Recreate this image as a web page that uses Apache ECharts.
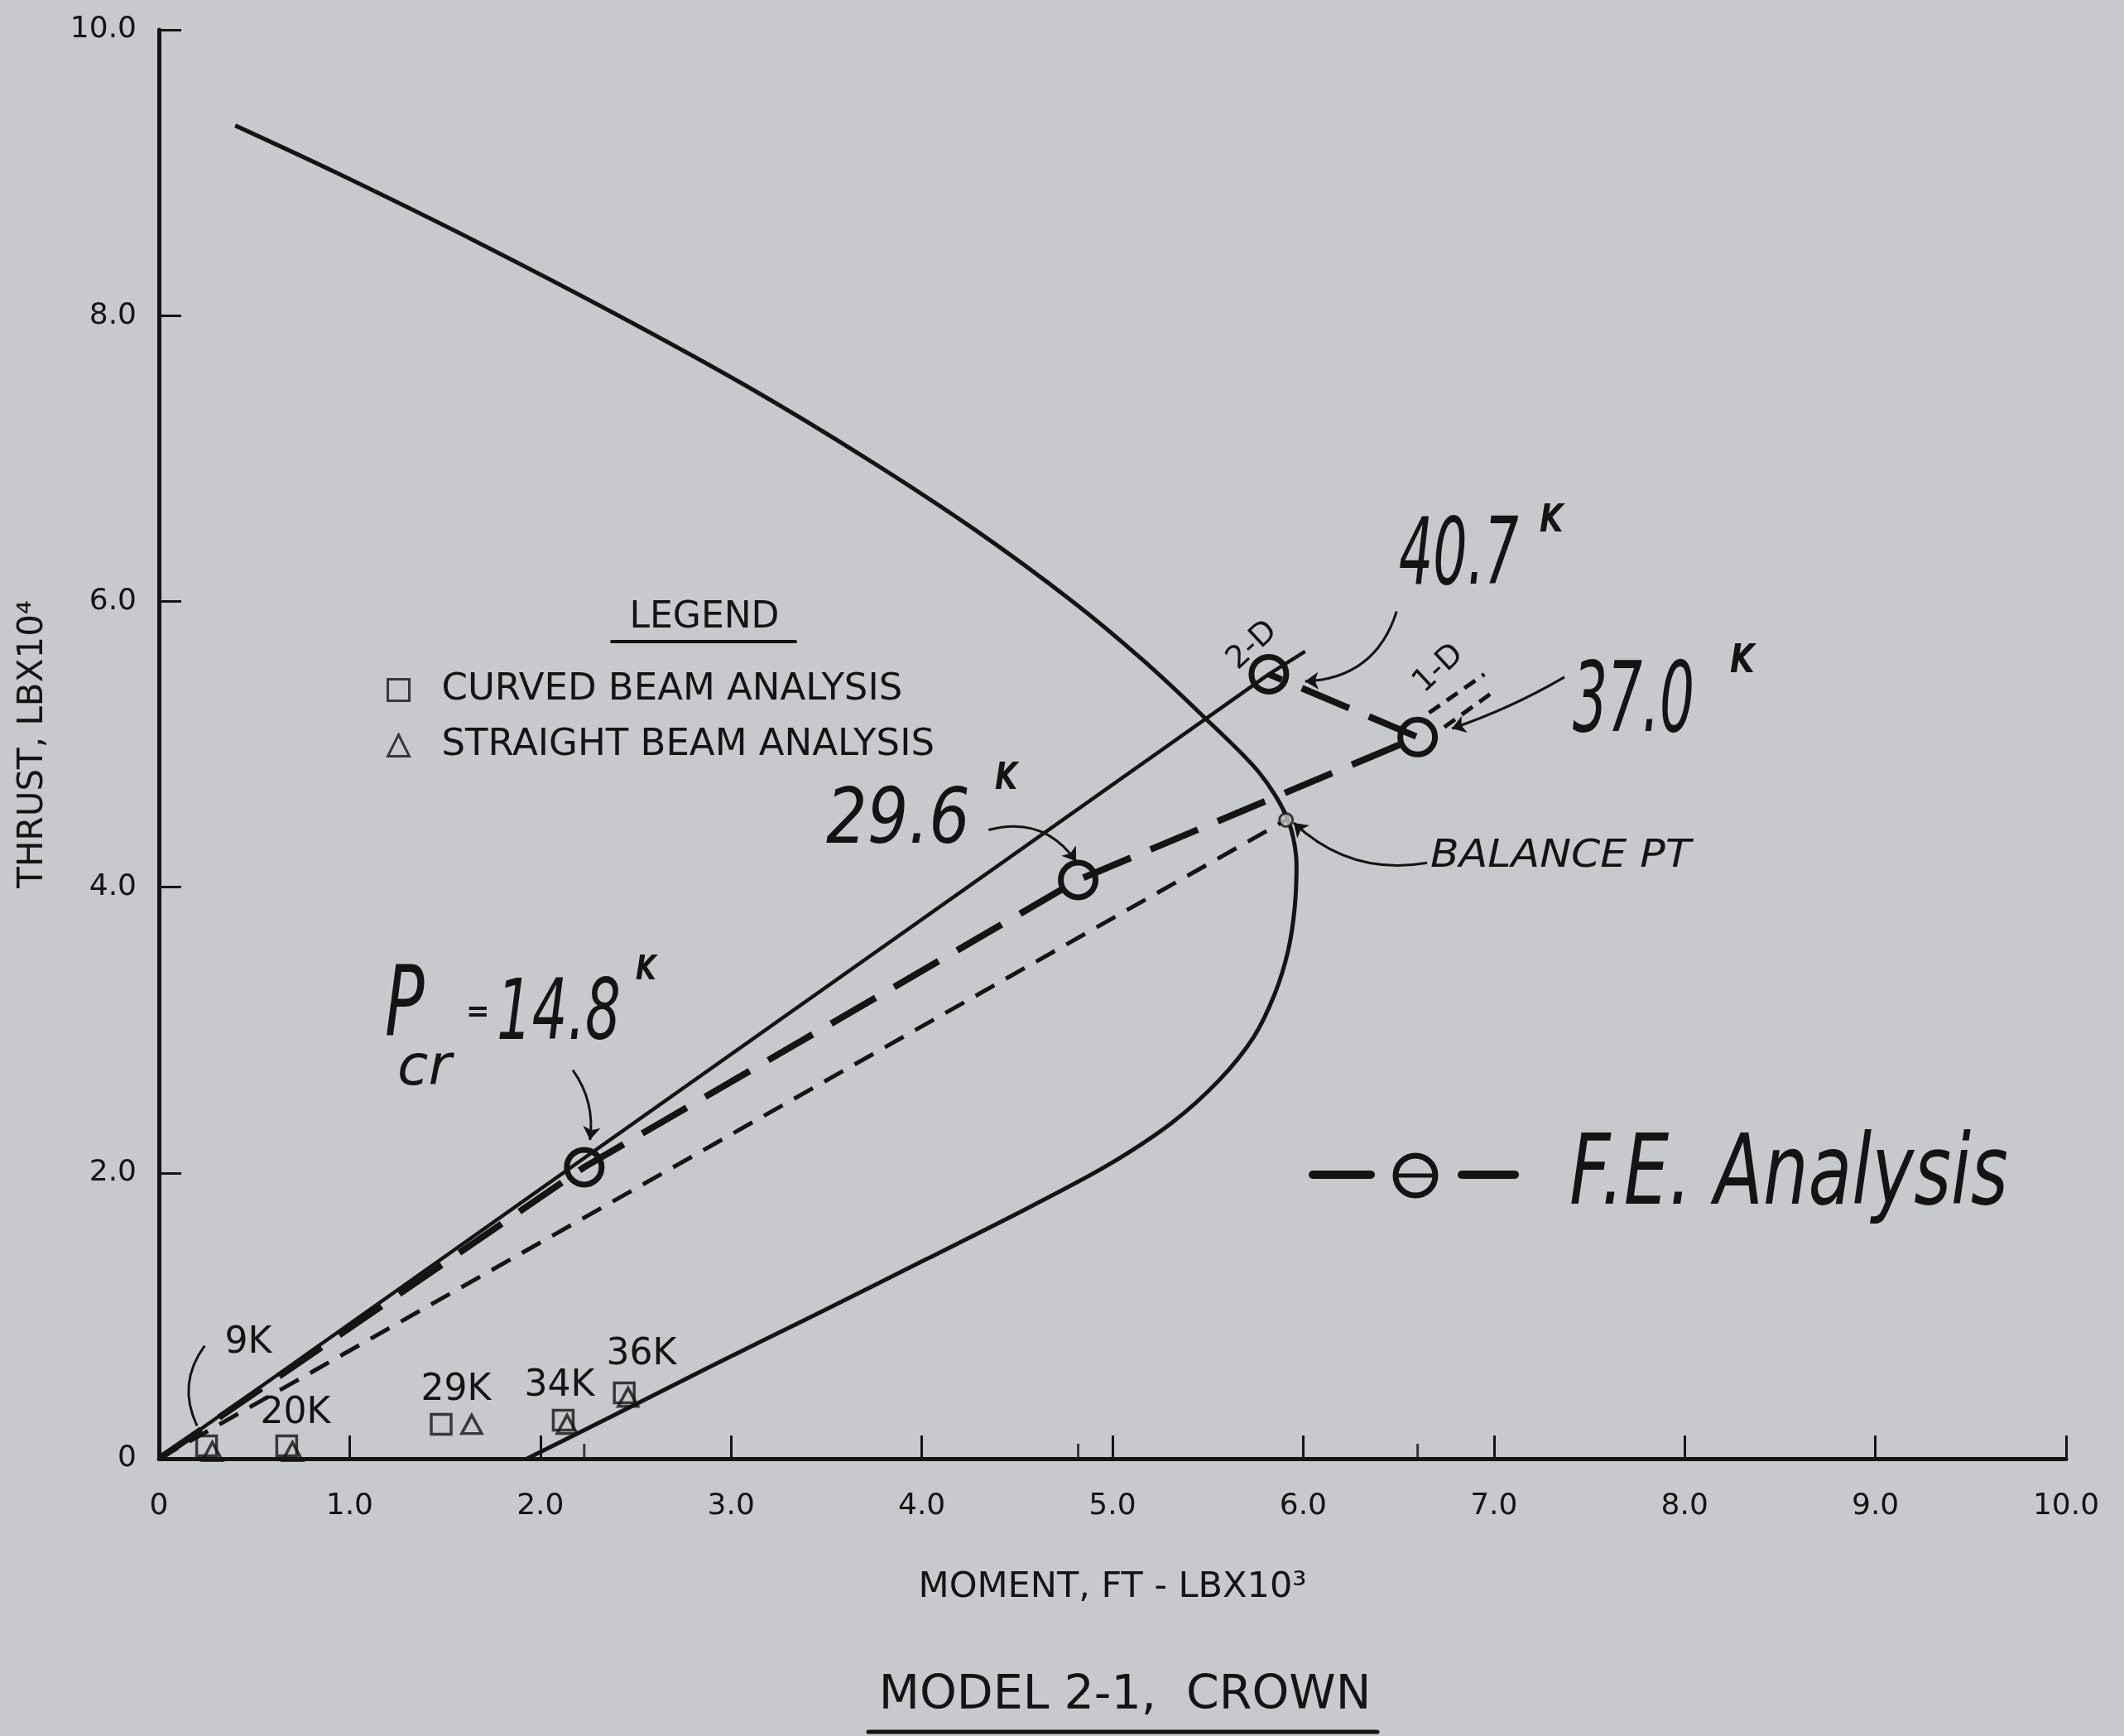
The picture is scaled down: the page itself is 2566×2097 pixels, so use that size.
<!DOCTYPE html>
<html>
<head>
<meta charset="utf-8">
<script src="https://cdn.jsdelivr.net/npm/echarts@6/dist/echarts.min.js"></script>
<style>
html,body{margin:0;padding:0;background:#c8c9cc;}
#chart{width:2566px;height:2097px;}
</style>
</head>
<body>
<div id="chart"></div>
<script>
// ---------- tick labels ----------
const xTickLabels = ['0','1.0','2.0','3.0','4.0','5.0','6.0','7.0','8.0','9.0','10.0'];
const yTickLabels = ['0','2.0','4.0','6.0','8.0','10.0'];

// ---------- interaction (capacity) curve : [moment, thrust] ----------
const interactionCurve = [
  [0.40,9.33],[0.93,9.00],[1.69,8.50],[2.41,8.00],[3.09,7.50],[3.71,7.00],
  [4.28,6.50],[4.79,6.00],[5.15,5.60],[5.48,5.19],[5.77,4.80],[5.92,4.47],
  [5.965,4.15],[5.955,3.85],[5.92,3.55],[5.85,3.25],[5.74,2.95],[5.56,2.65],
  [5.31,2.35],[4.97,2.05],[4.55,1.75],[4.03,1.40],[3.43,1.00],[2.90,0.65],
  [2.44,0.34],[1.93,0.00]
];

// ---------- straight load lines ----------
const twoDLine = [[0,0],[5.82,5.49],[6.01,5.65]];
const balanceLine = [[0,0],[5.91,4.47]];
const balancePoint = [[5.91,4.47]];
const oneDMarkA = [[6.66,5.22],[6.95,5.49]];
const oneDMarkB = [[6.74,5.12],[6.99,5.36]];

// ---------- F.E. analysis ----------
const feLoads  = ['14.8','29.6','37.0','40.7'];
const feMoment = [2.23, 4.82, 6.60, 5.82];
const feThrust = [2.04, 4.05, 5.05, 5.49];

// ---------- beam analyses ----------
const beamLoads      = ['9K','20K','29K','34K','36K'];
const curvedMoment   = [0.25, 0.67, 1.48, 2.12, 2.44];
const curvedThrust   = [0.09, 0.09, 0.24, 0.27, 0.46];
const straightMoment = [0.28, 0.70, 1.64, 2.14, 2.46];
const straightThrust = [0.05, 0.05, 0.24, 0.24, 0.43];

// ---------- leader lines (annotation arrows) ----------
const leaderFrom = [[6.49,5.93],[7.37,5.47],[4.35,4.40],[2.17,2.72],[6.65,4.17]];
const leaderTo   = [[6.01,5.44],[6.78,5.11],[4.81,4.18],[2.26,2.23],[5.95,4.45]];
const leaderBend = [0.35, 0.05, 0.35, 0.2, 0.25];
const leader9K   = [[0.24,0.79],[0.20,0.23]];

const INK = '#141414';
const BG = '#c8c9cc';
const FONT = "'DejaVu Sans', 'Noto Sans', sans-serif";

const chart = echarts.init(document.getElementById('chart'), null, {renderer:'canvas', width:2566, height:2097});

function txt(text, x, y, size, opts) {
  opts = opts || {};
  return {
    type: 'text', x: x, y: y, silent: true,
    scaleX: opts.sx || 1, rotation: opts.rot || 0, z: 100,
    style: {
      text: text, fill: INK, fontFamily: FONT, fontSize: size,
      fontStyle: opts.italic ? 'italic' : 'normal',
      fontWeight: opts.bold ? 'bold' : 'normal',
      align: opts.align || 'left', verticalAlign: 'middle',
      textAlign: opts.align || 'left', textVerticalAlign: 'middle'
    }
  };
}
function seg(x1, y1, x2, y2, w) {
  return {type:'line', silent:true, z:100, shape:{x1:x1,y1:y1,x2:x2,y2:y2},
          style:{stroke:INK, lineWidth:w, lineCap:'round'}};
}

const feData = [{value:[0,0], symbol:'none'}].concat(feMoment.map((m,i)=>[m, feThrust[i]]));

const option = {
  backgroundColor: BG,
  animation: false,
  title: {
    text: 'MODEL 2-1,  CROWN',
    left: 1354, top: 2016, textAlign: 'center',
    textStyle: {fontFamily: FONT, fontSize: 57, fontWeight: 'normal', color: INK}
  },
  legend: {
    orient: 'vertical', left: 462, top: 806, selectedMode: false,
    itemWidth: 26, itemHeight: 26, itemGap: 22,
    itemStyle: {color: 'rgba(0,0,0,0)', borderColor: INK, borderWidth: 3},
    textStyle: {fontFamily: FONT, fontSize: 45, color: INK, lineHeight: 44, padding: [0,0,0,34]},
    data: [{name:'CURVED BEAM ANALYSIS', icon:'rect'}, {name:'STRAIGHT BEAM ANALYSIS', icon:'triangle'}]
  },
  grid: {left: 192, top: 36, width: 2304, height: 1726, containLabel: false},
  xAxis: {
    type: 'value', min: 0, max: 10, interval: 1,
    name: 'MOMENT, FT - LBX10³', nameLocation: 'middle', nameGap: 134,
    nameTextStyle: {fontFamily: FONT, fontSize: 43, color: INK},
    axisLine: {lineStyle: {color: INK, width: 5}},
    axisTick: {inside: true, length: 28, lineStyle: {color: INK, width: 3}},
    axisLabel: {formatter: v => xTickLabels[Math.round(v)], fontFamily: FONT, fontSize: 36, color: INK, margin: 40},
    splitLine: {show: false}
  },
  yAxis: {
    type: 'value', min: 0, max: 10, interval: 2,
    name: 'THRUST, LBX10⁴', nameLocation: 'middle', nameRotate: 90, nameGap: 131,
    nameTextStyle: {fontFamily: FONT, fontSize: 42, color: INK},
    axisLine: {lineStyle: {color: INK, width: 5}},
    axisTick: {inside: true, length: 27, lineStyle: {color: INK, width: 3}},
    axisLabel: {formatter: v => yTickLabels[Math.round(v/2)], fontFamily: FONT, fontSize: 36, color: INK, margin: 27},
    splitLine: {show: false}
  },
  series: [
    {name:'Interaction curve', type:'line', data: interactionCurve, smooth: 0.3, symbol:'none',
     lineStyle:{color:INK, width:5}, z:2, silent:true},
    {name:'2-D line', type:'line', data: twoDLine, symbol:'none', lineStyle:{color:INK, width:4.5}, z:2, silent:true},
    {name:'Balance line', type:'line', data: balanceLine, symbol:'none',
     lineStyle:{color:INK, width:5, type:[26,16]}, z:2, silent:true},
    {name:'1-D mark a', type:'line', data: oneDMarkA, symbol:'none',
     lineStyle:{color:INK, width:5, type:[16,10]}, z:2, silent:true},
    {name:'1-D mark b', type:'line', data: oneDMarkB, symbol:'none',
     lineStyle:{color:INK, width:5, type:[16,10]}, z:2, silent:true},
    {name:'F.E. Analysis', type:'line', data: feData, symbol:'circle', symbolSize: 42,
     itemStyle:{color:'rgba(0,0,0,0)', borderColor:INK, borderWidth:7},
     lineStyle:{color:INK, width:8, type:[62,26]}, z:5, silent:true},
    {name:'CURVED BEAM ANALYSIS', type:'scatter', symbol:'rect', symbolSize:[24,24],
     data: curvedMoment.map((m,i)=>[m, curvedThrust[i]]),
     itemStyle:{color:'rgba(0,0,0,0)', borderColor:INK, borderWidth:3.5}, z:4, silent:true},
    {name:'STRAIGHT BEAM ANALYSIS', type:'scatter', symbol:'triangle', symbolSize:[24,22],
     data: straightMoment.map((m,i)=>[m, straightThrust[i]]),
     itemStyle:{color:'rgba(0,0,0,0)', borderColor:INK, borderWidth:3.5}, z:4, silent:true},
    {name:'Balance point', type:'scatter', symbol:'circle', symbolSize:16, data: balancePoint,
     itemStyle:{color:BG, borderColor:INK, borderWidth:3}, z:6, silent:true},
    {name:'FE moment ticks', type:'scatter', symbol:'rect', symbolSize:[3,18], symbolOffset:[0,-9],
     data: feMoment.slice(0,3).map(m=>[m,0]), itemStyle:{color:INK}, z:3, silent:true},
    {name:'Leaders', type:'lines', coordinateSystem:'cartesian2d', symbol:['none','arrow'], symbolSize:16,
     lineStyle:{color:INK, width:3, opacity:1},
     data: leaderFrom.map((p,i)=>({coords:[p, leaderTo[i]], lineStyle:{curveness: leaderBend[i]}})),
     z:7, silent:true},
    {name:'Leader 9K', type:'lines', coordinateSystem:'cartesian2d', symbol:['none','none'],
     lineStyle:{color:INK, width:3, opacity:1, curveness:-0.3},
     data: [{coords: leader9K}], z:7, silent:true}
  ],
  graphic: [
    // legend header
    txt('LEGEND', 851, 747, 44, {align:'center'}),
    seg(739, 775, 961, 775, 4),
    // beam load labels
    txt(beamLoads[0], 300, 1623, 44, {align:'center'}),
    txt(beamLoads[1], 357, 1708, 44, {align:'center'}),
    txt(beamLoads[2], 551, 1680, 44, {align:'center'}),
    txt(beamLoads[3], 676, 1675, 44, {align:'center'}),
    txt(beamLoads[4], 775, 1637, 44, {align:'center'}),
    // handwritten annotations
    txt(feLoads[3], 1690, 676, 112, {italic:true, sx:0.58}),
    txt('K', 1860, 630, 46, {italic:true, sx:0.8, bold:true}),
    txt(feLoads[2], 1900, 852, 118, {italic:true, sx:0.56}),
    txt('K', 2090, 800, 48, {italic:true, sx:0.8, bold:true}),
    txt(feLoads[1], 998, 994, 93, {italic:true, sx:0.84}),
    txt('K', 1202, 942, 44, {italic:true, sx:0.8, bold:true}),
    txt('P', 465, 1220, 118, {italic:true, sx:0.67}),
    txt('cr', 480, 1292, 68, {italic:true}),
    txt('=', 563, 1224, 34, {bold:true}),
    txt(feLoads[0], 600, 1228, 102, {italic:true, sx:0.66}),
    txt('K', 768, 1173, 40, {italic:true, sx:0.8, bold:true}),
    txt('BALANCE PT', 1728, 1035, 46, {italic:true, sx:1.1}),
    txt('2-D', 1513, 780, 38, {align:'center', rot:0.75}),
    txt('1-D', 1738, 808, 38, {align:'center', rot:0.75}),
    // F.E. analysis key
    seg(1586, 1419, 1656, 1419, 10),
    seg(1766, 1419, 1830, 1419, 10),
    {type:'ellipse', silent:true, z:100, shape:{cx:1710, cy:1420, rx:24, ry:24},
     style:{fill:'none', stroke:INK, lineWidth:7}},
    seg(1690, 1420, 1730, 1420, 5),
    txt('F.E. Analysis', 1896, 1423, 118, {italic:true, sx:0.73}),
    // title underline
    seg(1049, 2092, 1664, 2092, 5)
  ]
};
chart.setOption(option);
</script>
</body>
</html>
